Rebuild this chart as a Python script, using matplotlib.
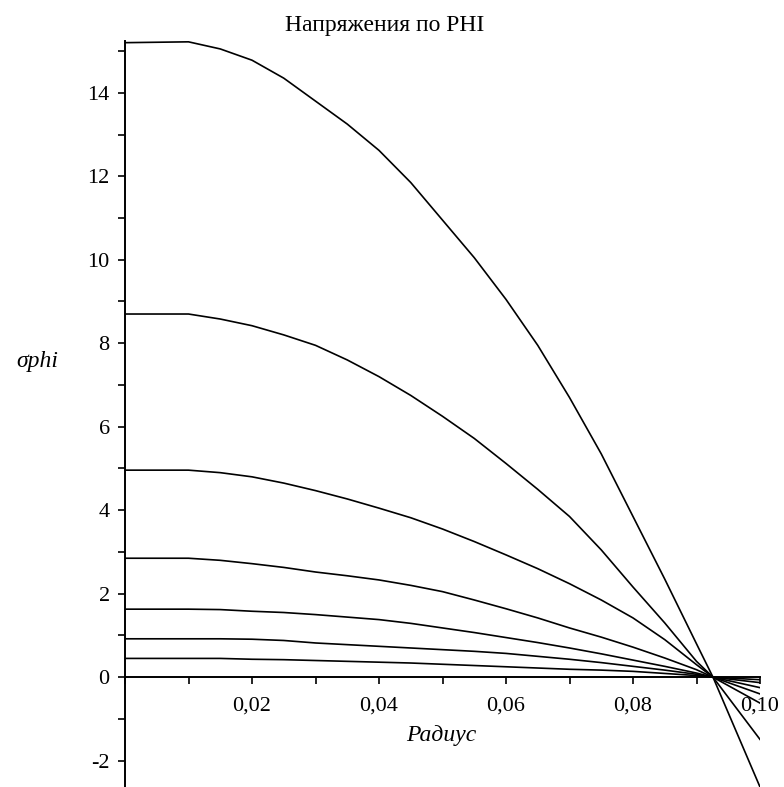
import matplotlib
matplotlib.use("Agg")
import matplotlib.pyplot as plt
from matplotlib.ticker import MultipleLocator, FuncFormatter

radius = [0, 0.005, 0.01, 0.015, 0.02, 0.025, 0.03, 0.035, 0.04, 0.045, 0.05, 0.055,
          0.06, 0.065, 0.07, 0.075, 0.08, 0.085, 0.09, 0.0926, 0.1]

# sigma_phi curves, top to bottom
s1 = [15.20, 15.21, 15.22, 15.05, 14.78, 14.35, 13.80, 13.25, 12.62, 11.85, 10.95, 10.05,
      9.05, 7.95, 6.70, 5.35, 3.85, 2.35, 0.80, 0.0, -2.63]
s2 = [8.70, 8.70, 8.70, 8.58, 8.42, 8.20, 7.95, 7.60, 7.20, 6.75, 6.25, 5.72,
      5.12, 4.50, 3.85, 3.05, 2.16, 1.30, 0.38, 0.0, -1.49]
s3 = [4.96, 4.96, 4.96, 4.90, 4.80, 4.65, 4.47, 4.27, 4.05, 3.82, 3.55, 3.25,
      2.93, 2.60, 2.24, 1.85, 1.42, 0.90, 0.30, 0.0, -0.62]
s4 = [2.85, 2.85, 2.85, 2.80, 2.72, 2.63, 2.52, 2.43, 2.33, 2.20, 2.05, 1.85,
      1.64, 1.42, 1.18, 0.96, 0.72, 0.46, 0.18, 0.0, -0.40]
s5 = [1.63, 1.63, 1.63, 1.62, 1.58, 1.55, 1.50, 1.44, 1.38, 1.29, 1.18, 1.07,
      0.95, 0.83, 0.70, 0.56, 0.41, 0.26, 0.10, 0.0, -0.25]
s6 = [0.92, 0.92, 0.92, 0.92, 0.91, 0.88, 0.82, 0.78, 0.74, 0.70, 0.66, 0.62,
      0.57, 0.50, 0.43, 0.35, 0.26, 0.17, 0.07, 0.0, -0.13]
s7 = [0.45, 0.45, 0.45, 0.45, 0.43, 0.42, 0.40, 0.38, 0.36, 0.34, 0.31, 0.28,
      0.25, 0.22, 0.19, 0.17, 0.14, 0.09, 0.04, 0.0, -0.06]
curves = [s1, s2, s3, s4, s5, s6, s7]

title = "Напряжения по PHI"
xlabel = "Радиус"
ylabel = "σphi"

plt.rcParams['font.family'] = ['Liberation Serif', 'DejaVu Serif']

fig = plt.figure(figsize=(7.84, 7.87), dpi=100)
ax = fig.add_axes([125 / 784, 0.0, (760 - 125) / 784, (787 - 41) / 787])

for s in curves:
    ax.plot(radius, s, color='black', lw=1.2)

ax.set_xlim(0, 0.1)
ax.set_ylim(-2.63, 15.24)

ax.spines['left'].set_position(('data', 0))
ax.spines['bottom'].set_position(('data', 0))
ax.spines['top'].set_visible(False)
ax.spines['right'].set_visible(False)
ax.spines['left'].set_linewidth(1.4)
ax.spines['bottom'].set_linewidth(1.4)

ax.xaxis.set_major_locator(MultipleLocator(0.02))
ax.xaxis.set_minor_locator(MultipleLocator(0.01))
ax.yaxis.set_major_locator(MultipleLocator(2))
ax.yaxis.set_minor_locator(MultipleLocator(1))

def fmt_x(v, pos):
    if abs(v) < 1e-9:
        return ""
    return f"{v:.2f}".replace(".", ",")

ax.xaxis.set_major_formatter(FuncFormatter(fmt_x))
ax.yaxis.set_major_formatter(FuncFormatter(lambda v, pos: f"{v:.0f}"))

ax.tick_params(which='both', direction='out', width=1.2, length=5, labelsize=16, pad=6)
ax.tick_params(axis='x', pad=9)

fig.text(385 / 784, 1 - 25 / 787, title, ha='center', va='center', fontsize=17)
fig.text(441 / 784, 1 - 736 / 787, xlabel, ha='center', va='center', fontsize=17, style='italic')
fig.text(37 / 784, 1 - 361 / 787, ylabel, ha='center', va='center', fontsize=17, style='italic')

fig.savefig("out.png", dpi=100)
